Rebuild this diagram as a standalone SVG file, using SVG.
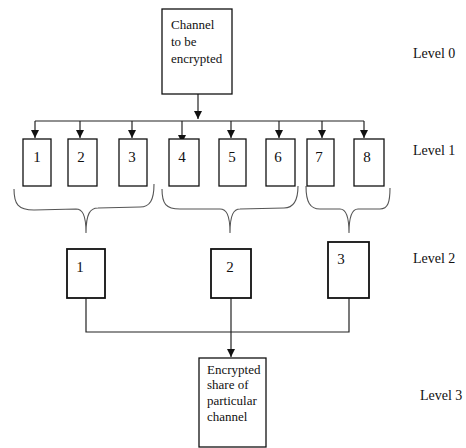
<svg xmlns="http://www.w3.org/2000/svg" width="466" height="448" viewBox="0 0 466 448">
  <style>
    .box { fill: #fff; stroke: #111; stroke-width: 1.3; }
    .box2 { fill: #fff; stroke: #111; stroke-width: 1.8; }
    .line { fill: none; stroke: #222; stroke-width: 1.2; }
    .brace { fill: none; stroke: #555; stroke-width: 1.1; }
    .txt { font-family: "Liberation Serif", "Times New Roman", serif; font-size: 13px; fill: #111; }
    .num { font-family: "Liberation Serif", "Times New Roman", serif; font-size: 15px; fill: #111; text-anchor: middle; }
    .lvl { font-family: "Liberation Serif", "Times New Roman", serif; font-size: 14px; fill: #111; }
  </style>
  <defs>
    <marker id="arrow" viewBox="0 0 10 10" refX="10" refY="5" markerWidth="8" markerHeight="8" markerUnits="userSpaceOnUse" orient="auto">
      <path d="M0,0 L10,5 L0,10 Z" fill="#111"/>
    </marker>
  </defs>
  <rect width="466" height="448" fill="#fff"/>

  <!-- connectors -->
  <g id="connectors">
    <line class="line" x1="198" y1="94" x2="198" y2="119" marker-end="url(#arrow)"/>
    <line class="line" x1="35" y1="121" x2="364" y2="121"/>
    <line class="line" x1="35" y1="121" x2="35" y2="138" marker-end="url(#arrow)"/>
    <line class="line" x1="80" y1="121" x2="80" y2="138" marker-end="url(#arrow)"/>
    <line class="line" x1="132" y1="121" x2="132" y2="138" marker-end="url(#arrow)"/>
    <line class="line" x1="182" y1="121" x2="182" y2="143" marker-end="url(#arrow)"/>
    <line class="line" x1="231" y1="121" x2="231" y2="138" marker-end="url(#arrow)"/>
    <line class="line" x1="279" y1="121" x2="279" y2="138" marker-end="url(#arrow)"/>
    <line class="line" x1="322" y1="121" x2="322" y2="138" marker-end="url(#arrow)"/>
    <line class="line" x1="364" y1="121" x2="364" y2="138" marker-end="url(#arrow)"/>
    <!-- braces grouping the level 1 blocks -->
    <path class="brace" d="M14,189 C14,204 18,210 34,210 L76,209 C82,209 86,214 86,233 C86,214 90,208 98,208 L140,207 C150,207 154,200 154,184"/>
    <path class="brace" d="M162,189 C162,204 166,209 180,209 L220,209 C226,209 230,214 230,233 C230,214 234,209 240,209 L284,208 C294,208 298,200 298,186"/>
    <path class="brace" d="M306,186 C306,202 310,209 320,209 L340,209 C345,209 349,214 349,233 C349,214 353,209 358,209 L380,209 C388,209 390,202 390,188"/>
    <!-- level 2 to level 3 -->
    <polyline class="line" points="86,298 86,332 349,332 349,298" stroke="#555"/>
    <line class="line" x1="231" y1="298" x2="231" y2="357" stroke-width="1.5" marker-end="url(#arrow)"/>
  </g>

  <!-- level 0 -->
  <g id="channel">
    <rect class="box" x="162" y="9" width="70" height="85"/>
    <text class="txt" x="171" y="29">Channel</text>
    <text class="txt" x="171" y="46">to be</text>
    <text class="txt" x="171" y="63">encrypted</text>
  </g>

  <!-- level 1 -->
  <g id="l1-1"><rect class="box" x="23" y="139" width="28" height="47"/><text class="num" x="37" y="162">1</text></g>
  <g id="l1-2"><rect class="box" x="68" y="139" width="29" height="47"/><text class="num" x="81" y="162">2</text></g>
  <g id="l1-3"><rect class="box" x="119" y="139" width="28" height="47"/><text class="num" x="132" y="162">3</text></g>
  <g id="l1-4"><rect class="box" x="169" y="139" width="30" height="47"/><text class="num" x="182" y="162">4</text></g>
  <g id="l1-5"><rect class="box" x="219" y="139" width="27" height="47"/><text class="num" x="232" y="162">5</text></g>
  <g id="l1-6"><rect class="box" x="266" y="139" width="29" height="47"/><text class="num" x="278" y="162">6</text></g>
  <g id="l1-7"><rect class="box" x="307" y="139" width="27" height="47"/><text class="num" x="319" y="162">7</text></g>
  <g id="l1-8"><rect class="box" x="354" y="139" width="30" height="47"/><text class="num" x="367" y="162">8</text></g>

  <!-- level 2 -->
  <g id="l2-1"><rect class="box2" x="67" y="249" width="38" height="49"/><text class="num" x="80" y="272">1</text></g>
  <g id="l2-2"><rect class="box2" x="211" y="249" width="40" height="49"/><text class="num" x="230" y="272">2</text></g>
  <g id="l2-3"><rect class="box2" x="328" y="242" width="41" height="56"/><text class="num" x="341" y="264">3</text></g>

  <!-- level 3 -->
  <g id="share">
    <rect class="box" x="199" y="358" width="67" height="89"/>
    <text class="txt" x="207" y="374" font-size="12">Encrypted</text>
    <text class="txt" x="207" y="389" font-size="12">share of</text>
    <text class="txt" x="207" y="405" font-size="12">particular</text>
    <text class="txt" x="207" y="421" font-size="12">channel</text>
  </g>

  <!-- level labels -->
  <g id="levels">
    <text class="lvl" x="413" y="58">Level 0</text>
    <text class="lvl" x="413" y="155">Level 1</text>
    <text class="lvl" x="413" y="263">Level 2</text>
    <text class="lvl" x="420" y="400">Level 3</text>
  </g>
</svg>
